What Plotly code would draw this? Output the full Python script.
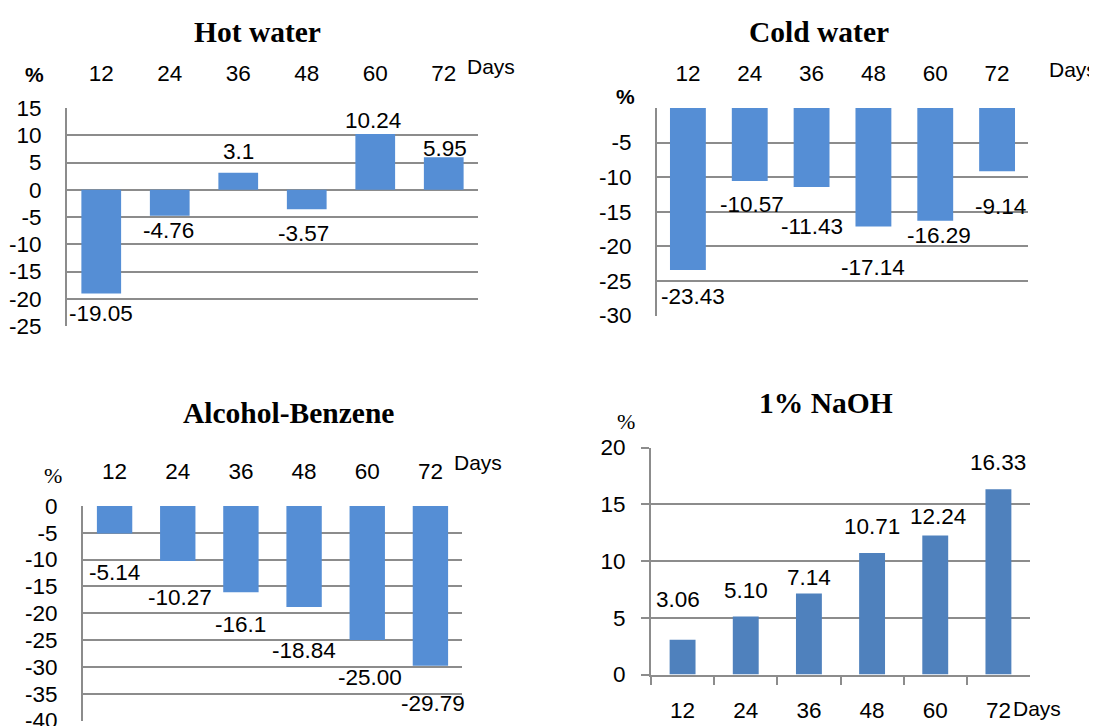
import plotly.graph_objects as go

W, H = 1097, 726
OFF = 8  # page body margin in the browser

days = ["12", "24", "36", "48", "60", "72"]
hot_water = [-19.05, -4.76, 3.1, -3.57, 10.24, 5.95]
hot_text = ["-19.05", "-4.76", "3.1", "-3.57", "10.24", "5.95"]
cold_water = [-23.43, -10.57, -11.43, -17.14, -16.29, -9.14]
cold_text = ["-23.43", "-10.57", "-11.43", "-17.14", "-16.29", "-9.14"]
alc_benz = [-5.14, -10.27, -16.1, -18.84, -25.00, -29.79]
alc_text = ["-5.14", "-10.27", "-16.1", "-18.84", "-25.00", "-29.79"]
naoh = [3.06, 5.10, 7.14, 10.71, 12.24, 16.33]
naoh_text = ["3.06", "5.10", "7.14", "10.71", "12.24", "16.33"]

titles = ["Hot water", "Cold water", "Alcohol-Benzene", "1% NaOH"]

# label offsets (pixels) relative to bar end, as placed in the original
hot_dy = [-20, -15, 21, -24, 13, 9]
hot_dx = [0, -1, 0, -3, -2, 1]
cold_dy = [-26, -23, -39, -41, -15, -35]
cold_dx = [5, 2, 0, 0, 4, 3]
alc_dy = [-39, -36, -32, -43, -37, -38]
alc_dx = [0, 2, 0, 0, 3, 3]
naoh_dy = [40, 26, 16, 26, 19, 27]
naoh_dx = [-5, 0, 0, 0, 3, 0]

BLUE1 = "#558ED5"
BLUE2 = "#4F81BD"
GRID = "#8C8C8C"
SANS = "Liberation Sans"
SERIF = "Liberation Serif"
FS = 22.5
FS_DAYS = 21


def px(x):
    return (x - OFF) / W


def py(y):
    return 1 - (y - OFF) / H


fig = go.Figure()

panels = [
    # (values, texts, dy, dx, color, xdom px, ydom px (top,bottom), yrange, tickvals, ticktext, barwidth)
    (hot_water, hot_text, hot_dy, hot_dx, BLUE1, (67, 478), (108, 326), [-25, 15],
     list(range(-25, 20, 5)), [str(v) for v in range(-25, 20, 5)], 0.58),
    (cold_water, cold_text, cold_dy, cold_dx, BLUE1, (657, 1028), (108, 315.5), [-30, 0],
     list(range(-30, 5, 5)), [str(v) for v in range(-30, 0, 5)] + [""], 0.58),
    (alc_benz, alc_text, alc_dy, alc_dx, BLUE1, (83, 462), (506, 720.5), [-40, 0],
     list(range(-40, 5, 5)), [str(v) for v in range(-40, 5, 5)], 0.56),
    (naoh, naoh_text, naoh_dy, naoh_dx, BLUE2, (651, 1030), (447.5, 674.5), [0, 20],
     list(range(0, 25, 5)), [str(v) for v in range(0, 25, 5)], 0.41),
]

layout = {}
for i, (vals, texts, dy, dx, color, xd, yd, yr, tv, tt, bw) in enumerate(panels):
    n = i + 1
    xa = "x" if n == 1 else f"x{n}"
    ya = "y" if n == 1 else f"y{n}"
    fig.add_trace(go.Bar(x=days, y=vals, marker=dict(color=color, line=dict(width=0)),
                         width=bw, xaxis=xa, yaxis=ya, showlegend=False, hoverinfo="x+y"))
    for k, (v, t, sy, sx) in enumerate(zip(vals, texts, dy, dx)):
        fig.add_annotation(x=k, y=v, xref=xa, yref=ya, text=t, showarrow=False,
                           yshift=sy, xshift=sx, xanchor="center", yanchor="middle",
                           font=dict(family=SANS, size=FS, color="black"))
    xkey = "xaxis" if n == 1 else f"xaxis{n}"
    ykey = "yaxis" if n == 1 else f"yaxis{n}"
    common_x = dict(domain=[px(xd[0]), px(xd[1])], anchor=ya, type="category",
                    range=[-0.5, len(days) - 0.5], automargin=False, showgrid=False,
                    zeroline=False, tickfont=dict(family=SANS, size=FS, color="black"),
                    tickangle=0)
    common_y = dict(domain=[py(yd[1]), py(yd[0])], anchor=xa, range=yr, tickvals=tv,
                    ticktext=tt, showline=True, linecolor=GRID, linewidth=2,
                    showgrid=True, gridcolor=GRID, gridwidth=2, zeroline=False,
                    automargin=False, tickfont=dict(family=SANS, size=FS, color="black"))
    if n < 4:
        layout[xkey] = dict(common_x, side="top", showline=False, ticks="",
                            ticklabelstandoff=22)
        layout[ykey] = dict(common_y, ticks="", ticklabelstandoff=19)
    else:
        layout[xkey] = dict(common_x, side="bottom", showline=True, linecolor=GRID,
                            linewidth=2, ticks="outside", ticklen=8, tickwidth=2,
                            tickcolor=GRID, tickson="boundaries", ticklabelstandoff=14)
        layout[ykey] = dict(common_y, ticks="outside", ticklen=8, tickwidth=2,
                            tickcolor=GRID, ticklabelstandoff=11)

# titles
title_pos = [(257, 32), (819, 32), (288, 413), (826, 403)]
for t, (x, y) in zip(titles, title_pos):
    fig.add_annotation(x=px(x), y=py(y), xref="paper", yref="paper", text=f"<b>{t}</b>",
                       showarrow=False, xanchor="center", yanchor="middle",
                       font=dict(family=SERIF, size=29.5, color="black"))

# "%" unit labels
pct = [(34, 75, True, SANS), (625, 97, True, SANS), (53, 475, False, SERIF), (626, 421, False, SERIF)]
for x, y, bold, fam in pct:
    fig.add_annotation(x=px(x), y=py(y), xref="paper", yref="paper",
                       text="<b>%</b>" if bold else "%", showarrow=False,
                       xanchor="center", yanchor="middle",
                       font=dict(family=fam, size=21 if bold else 22, color="black"))

# "Days" labels
days_pos = [(465, 67, "left"), (1047, 70, "left"), (452, 463, "left"), (1011, 708, "left")]
for x, y, anc in days_pos:
    fig.add_annotation(x=px(x), y=py(y), xref="paper", yref="paper", text="Days",
                       showarrow=False, xanchor=anc, yanchor="middle",
                       font=dict(family=SANS, size=FS_DAYS, color="black"))

fig.update_layout(width=W, height=H, autosize=False, margin=dict(l=0, r=0, t=0, b=0),
                  paper_bgcolor="white", plot_bgcolor="white", bargap=0.4, **layout)

fig.write_html("out.html")
